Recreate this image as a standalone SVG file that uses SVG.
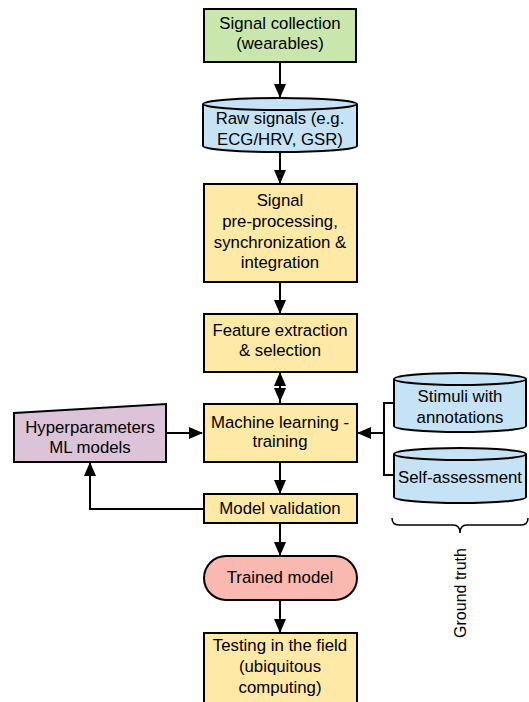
<svg xmlns="http://www.w3.org/2000/svg" width="529" height="702" viewBox="0 0 529 702">
<style>
.box{stroke:#000;stroke-width:2}
.proc{fill:#fee9a6}
.green{fill:#c9e6ad}
.blue{fill:#c5e3f5}
.pink{fill:#f9b8b0}
.purple{fill:#dcc3d8}
.c{stroke:#000;stroke-width:2;fill:none}
text{font-family:"Liberation Sans",Arial,sans-serif;font-size:16.8px;fill:#000;text-anchor:middle}
text.gt{font-size:16px}
</style>
<defs>
<marker id="ah" viewBox="0 0 14 12" refX="13" refY="6" markerWidth="14" markerHeight="12" markerUnits="userSpaceOnUse" orient="auto">
<path d="M0,0 L14,6 L0,12 z" fill="#000"/>
</marker>
</defs>
<rect width="529" height="702" fill="#fff"/>
<g id="connectors">
<path class="c" d="M280,62 V97" marker-end="url(#ah)"/>
<path class="c" d="M280,152 V183" marker-end="url(#ah)"/>
<path class="c" d="M280,282 V313" marker-end="url(#ah)"/>
<path class="c" d="M280,404 V387"/>
<path class="c" d="M280,387 V373" marker-end="url(#ah)"/>
<path class="c" d="M280,387 V401" marker-end="url(#ah)"/>
<path class="c" d="M280,462 V493" marker-end="url(#ah)"/>
<path class="c" d="M280,523 V555" marker-end="url(#ah)"/>
<path class="c" d="M280,600 V632" marker-end="url(#ah)"/>
<path class="c" d="M166,433 H202" marker-end="url(#ah)"/>
<path class="c" d="M203,509 H90 V463" marker-end="url(#ah)"/>
<path class="c" d="M394,403 H384 V475 H394"/>
<path class="c" d="M384,433 H358" marker-end="url(#ah)"/>
</g>
<g id="signal-collection">
<rect class="box green" x="204" y="9" width="152" height="53"/>
<text x="280" y="29">Signal collection</text>
<text x="280" y="49">(wearables)</text>
</g>
<g id="raw-signals">
<path class="box blue" d="M203,104 A77,6 0 0 1 357,104 V146 A77,6 0 0 1 203,146 Z"/>
<path class="box" fill="none" d="M203,104 A77,6 0 0 0 357,104"/>
<text x="280" y="124">Raw signals (e.g.</text>
<text x="280" y="145">ECG/HRV, GSR)</text>
</g>
<g id="preprocessing">
<rect class="box proc" x="204" y="184" width="153" height="98"/>
<text x="280" y="206">Signal</text>
<text x="280" y="227">pre-processing,</text>
<text x="280" y="248">synchronization &amp;</text>
<text x="280" y="268">integration</text>
</g>
<g id="feature-extraction">
<rect class="box proc" x="204" y="314" width="153" height="58"/>
<text x="280" y="336">Feature extraction</text>
<text x="280" y="356">&amp; selection</text>
</g>
<g id="ml-training">
<rect class="box proc" x="204" y="404" width="153" height="58"/>
<text x="280" y="428">Machine learning -</text>
<text x="280" y="447">training</text>
</g>
<g id="model-validation">
<rect class="box proc" x="204" y="494" width="153" height="29"/>
<text x="280" y="514">Model validation</text>
</g>
<g id="trained-model">
<rect class="box pink" x="204" y="556" width="153" height="44" rx="22" ry="22"/>
<text x="280" y="583">Trained model</text>
</g>
<g id="testing">
<rect class="box proc" x="204" y="633" width="153" height="90"/>
<text x="280" y="651">Testing in the field</text>
<text x="280" y="672">(ubiquitous</text>
<text x="280" y="693">computing)</text>
</g>
<g id="hyperparameters">
<path class="box purple" d="M14,413 L166,404 V462 H14 Z"/>
<text x="90" y="433">Hyperparameters</text>
<text x="90" y="453">ML models</text>
</g>
<g id="stimuli">
<path class="box blue" d="M394,379 A66,6 0 0 1 526,379 V426 A66,6 0 0 1 394,426 Z"/>
<path class="box" fill="none" d="M394,379 A66,6 0 0 0 526,379"/>
<text x="460" y="402">Stimuli with</text>
<text x="460" y="423">annotations</text>
</g>
<g id="self-assessment">
<path class="box blue" d="M394,454 A66,6 0 0 1 526,454 V497 A66,6 0 0 1 394,497 Z"/>
<path class="box" fill="none" d="M394,454 A66,6 0 0 0 526,454"/>
<text x="460" y="483">Self-assessment</text>
</g>
<g id="ground-truth">
<path d="M392,518 Q392,525 399,525 H453 Q460,525 460,533 Q460,525 467,525 H521 Q528,525 528,518" fill="none" stroke="#000" stroke-width="1.5"/>
<text class="gt" transform="translate(466,593) rotate(-90)" x="0" y="0">Ground truth</text>
</g>
</svg>
